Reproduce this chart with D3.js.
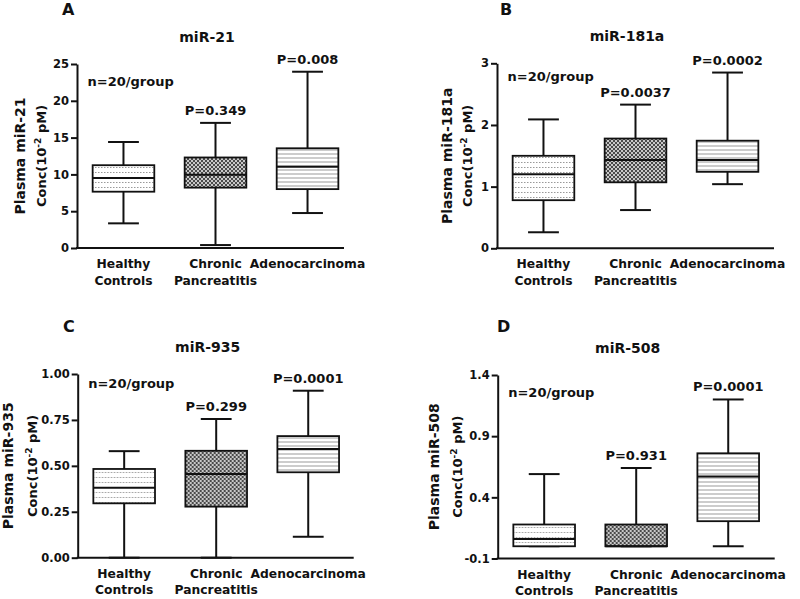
<!DOCTYPE html>
<html>
<head>
<meta charset="utf-8">
<script src="https://cdn.jsdelivr.net/npm/d3@7"></script>
<style>
  body { margin: 0; background: #fff; }
  svg { display: block; }
  text { font-family: "DejaVu Sans", sans-serif; font-weight: bold; fill: #111; }
</style>
</head>
<body>
<svg id="fig" width="800" height="599"></svg>
<script>
const categories = ["Healthy Controls", "Chronic Pancreatitis", "Adenocarcinoma"];
const categoryLines = [["Healthy", "Controls"], ["Chronic", "Pancreatitis"], ["Adenocarcinoma"]];
const panelLetters = ["A", "B", "C", "D"];
const mirNames = ["miR-21", "miR-181a", "miR-935", "miR-508"];

// box stats per group: [min, q1, median, q3, max]
const miR21 = [[3.35, 7.65, 9.5, 11.25, 14.4], [0.4, 8.2, 9.95, 12.3, 17.0], [4.75, 8.0, 11.05, 13.55, 23.95]];
const miR181a = [[0.26, 0.78, 1.2, 1.5, 2.09], [0.62, 1.07, 1.43, 1.78, 2.33], [1.04, 1.24, 1.43, 1.745, 2.85]];
const miR935 = [[0.0, 0.296, 0.381, 0.483, 0.58], [0.0, 0.278, 0.456, 0.582, 0.755], [0.114, 0.465, 0.592, 0.662, 0.909]];
const miR508 = [[0.0, 0.0, 0.06, 0.178, 0.59], [0.0, 0.0, 0.0, 0.178, 0.64], [0.0, 0.205, 0.57, 0.76, 1.2]];

const yTicks21 = [0, 5, 10, 15, 20, 25];
const yTicks181a = [0, 1, 2, 3];
const yTicks935 = [0, 0.25, 0.5, 0.75, 1.0];
const yTicks508 = [-0.1, 0.4, 0.9, 1.4];

const pLabels21 = ["", "P=0.349", "P=0.008"];
const pLabels181a = ["", "P=0.0037", "P=0.0002"];
const pLabels935 = ["", "P=0.299", "P=0.0001"];
const pLabels508 = ["", "P=0.931", "P=0.0001"];

const nLabel = "n=20/group";
const nLabelY = [22, 2.72, 0.925, 1.22];

// plain hyphen for negatives, like the original
function fmtWith(spec) {
  var f = d3.format(spec);
  return function(v) { return f(v).replace("\u2212", "-"); };
}

const panels = [
  { stats: miR21, ticks: yTicks21, p: pLabels21, fmt: fmtWith("d") },
  { stats: miR181a, ticks: yTicks181a, p: pLabels181a, fmt: fmtWith("d") },
  { stats: miR935, ticks: yTicks935, p: pLabels935, fmt: fmtWith(".2f") },
  { stats: miR508, ticks: yTicks508, p: pLabels508, fmt: fmtWith(".1f") }
];

// where each panel sits on the page
const layout = [
  { x: 77, top: 64, bottom: 248, len: 267, lx: 62, ly: 15, t1: -52, t2: -31 },
  { x: 497, top: 63.3, bottom: 248.3, len: 277, lx: 500, ly: 15, t1: -45, t2: -25 },
  { x: 77.7, top: 374, bottom: 557.7, len: 276, lx: 63, ly: 331.7, t1: -65, t2: -41 },
  { x: 497.7, top: 375, bottom: 558.5, len: 277, lx: 497, ly: 331.7, t1: -59, t2: -36 }
];

const svg = d3.select("#fig");
const defs = svg.append("defs");

// dotted fill for healthy controls
var pd = defs.append("pattern").attr("id", "dots").attr("patternUnits", "userSpaceOnUse")
  .attr("width", 3).attr("height", 5);
pd.append("rect").attr("width", 3).attr("height", 5).attr("fill", "#fff");
pd.append("rect").attr("x", 0).attr("y", 2).attr("width", 1.5).attr("height", 1).attr("fill", "#999");

// fine checker for chronic pancreatitis
var pc = defs.append("pattern").attr("id", "checker").attr("patternUnits", "userSpaceOnUse")
  .attr("width", 4).attr("height", 4);
pc.append("rect").attr("width", 4).attr("height", 4).attr("fill", "#c8c8c8");
pc.append("rect").attr("x", 0).attr("y", 0).attr("width", 2).attr("height", 2).attr("fill", "#4a4a4a");
pc.append("rect").attr("x", 2).attr("y", 2).attr("width", 2).attr("height", 2).attr("fill", "#4a4a4a");

// horizontal lines for adenocarcinoma
var ph = defs.append("pattern").attr("id", "hlines").attr("patternUnits", "userSpaceOnUse")
  .attr("width", 6).attr("height", 4);
ph.append("rect").attr("width", 6).attr("height", 4).attr("fill", "#fff");
ph.append("rect").attr("x", 0).attr("y", 1.5).attr("width", 6).attr("height", 1).attr("fill", "#999");

const fills = ["url(#dots)", "url(#checker)", "url(#hlines)"];

panels.forEach(function(p, k) {
  var L = layout[k];
  var g = svg.append("g").attr("transform", "translate(" + L.x + ",0)");

  var y = d3.scaleLinear()
    .domain([p.ticks[0], p.ticks[p.ticks.length - 1]])
    .range([L.bottom, L.top]);
  var x = d3.scaleBand()
    .domain(categories)
    .range([0, 277])
    .paddingInner(0.33)
    .paddingOuter(0.17);
  var bw = x.bandwidth();

  // y axis
  var ax = g.append("g")
    .call(d3.axisLeft(y).tickValues(p.ticks).tickFormat(p.fmt).tickSize(6).tickSizeOuter(0).tickPadding(2));
  ax.select(".domain").attr("stroke", "#111").attr("stroke-width", 2);
  ax.selectAll(".tick line").attr("stroke", "#111").attr("stroke-width", 2);
  ax.selectAll(".tick text").style("font-size", "11.5px").attr("fill", "#111")
    .style("font-family", "DejaVu Sans").style("font-weight", "bold");

  // x baseline
  g.append("line")
    .attr("x1", -1).attr("x2", L.len)
    .attr("y1", L.bottom).attr("y2", L.bottom)
    .attr("stroke", "#111").attr("stroke-width", 2);

  // category labels
  categoryLines.forEach(function(lines, i) {
    var t = g.append("text")
      .attr("x", x(categories[i]) + bw / 2)
      .attr("y", L.bottom + 20)
      .attr("text-anchor", "middle")
      .style("font-size", "12.3px");
    lines.forEach(function(s, j) {
      t.append("tspan").attr("x", x(categories[i]) + bw / 2).attr("dy", j === 0 ? 0 : 16.7).text(s);
    });
  });

  // boxes
  var boxes = g.selectAll(".box").data(p.stats).enter().append("g").attr("class", "box");
  boxes.each(function(d, i) {
    var b = d3.select(this);
    var cx = x(categories[i]) + bw / 2;
    // whiskers
    b.append("line").attr("x1", cx).attr("x2", cx).attr("y1", y(d[4])).attr("y2", y(d[3]))
      .attr("stroke", "#111").attr("stroke-width", 2);
    b.append("line").attr("x1", cx).attr("x2", cx).attr("y1", y(d[1])).attr("y2", y(d[0]))
      .attr("stroke", "#111").attr("stroke-width", 2);
    b.append("line").attr("x1", cx - bw / 4).attr("x2", cx + bw / 4).attr("y1", y(d[4])).attr("y2", y(d[4]))
      .attr("stroke", "#111").attr("stroke-width", 2);
    b.append("line").attr("x1", cx - bw / 4).attr("x2", cx + bw / 4).attr("y1", y(d[0])).attr("y2", y(d[0]))
      .attr("stroke", "#111").attr("stroke-width", 2);
    // box
    b.append("rect")
      .attr("x", x(categories[i])).attr("width", bw)
      .attr("y", y(d[3])).attr("height", y(d[1]) - y(d[3]))
      .attr("fill", fills[i]).attr("stroke", "#111").attr("stroke-width", 1.8);
    // median
    b.append("line").attr("x1", x(categories[i])).attr("x2", x(categories[i]) + bw)
      .attr("y1", y(d[2])).attr("y2", y(d[2]))
      .attr("stroke", "#111").attr("stroke-width", 2);
    // p value
    if (p.p[i]) {
      b.append("text").attr("x", cx).attr("y", y(d[4]) - 8)
        .attr("text-anchor", "middle").style("font-size", "13px").text(p.p[i]);
    }
  });

  // n label
  g.append("text").attr("x", 10.5).attr("y", y(nLabelY[k]))
    .style("font-size", "13px").text(nLabel);

  // title
  g.append("text").attr("x", 130).attr("y", L.top - 22)
    .attr("text-anchor", "middle").style("font-size", "14px").text(mirNames[k]);

  // y axis title, two lines
  var mid = (L.top + L.bottom) / 2;
  g.append("text")
    .attr("transform", "translate(" + L.t1 + "," + mid + ") rotate(-90)")
    .attr("text-anchor", "middle").style("font-size", "14px")
    .text("Plasma " + mirNames[k]);
  var t2 = g.append("text")
    .attr("transform", "translate(" + L.t2 + "," + mid + ") rotate(-90)")
    .attr("text-anchor", "middle").style("font-size", "13px");
  t2.append("tspan").text("Conc(10");
  t2.append("tspan").attr("dy", -5).style("font-size", "9px").text("-2");
  t2.append("tspan").attr("dy", 5).text(" pM)");

  // panel letter
  svg.append("text").attr("x", L.lx).attr("y", L.ly)
    .style("font-size", "16px").text(panelLetters[k]);
});
</script>
</body>
</html>
